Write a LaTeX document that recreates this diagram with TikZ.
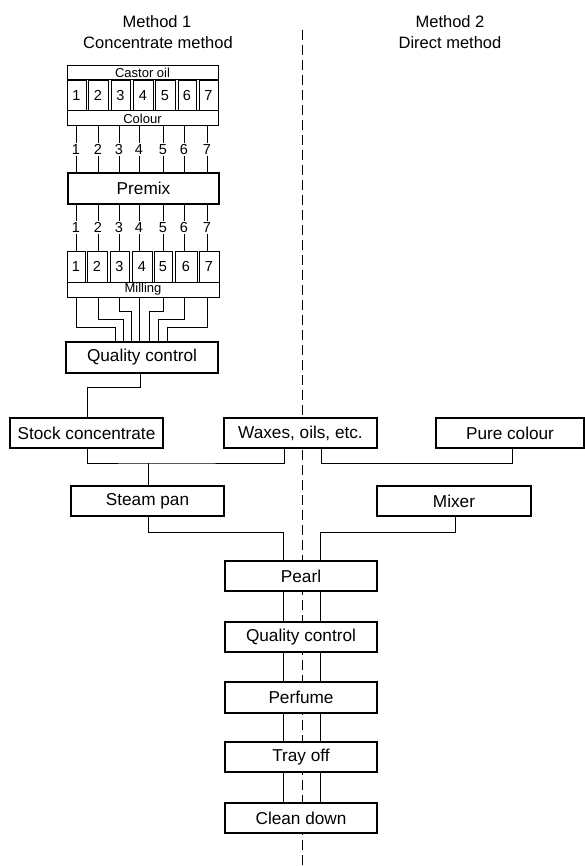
\documentclass[tikz,border=0pt]{standalone}
\usepackage{fontspec}
\setmainfont{Liberation Sans}
\begin{document}
\begin{tikzpicture}[x=1pt,y=-1pt,
  bx/.style={draw, line width=1.1pt, fill=white, inner sep=0pt, font=\fontsize{17.2}{20}\selectfont},
  sbx/.style={draw, line width=1pt, fill=white, inner sep=0pt, font=\fontsize{13}{15}\selectfont},
  cellbox/.style={draw, line width=0.9pt, fill=white, inner sep=0pt, minimum height=31pt, font=\fontsize{14.5}{16}\selectfont},
  conn/.style={line width=0.8pt},
  lbl/.style={fill=white, inner sep=1.5pt, font=\fontsize{14.5}{16}\selectfont},
  ttl/.style={font=\fontsize{16.5}{20}\selectfont},
  divider/.style={line width=0.8pt, dash pattern=on 10pt off 5pt}]
\useasboundingbox (0,0) rectangle (585,866);

% divider
\coordinate (dtop) at (302,30);
\coordinate (dbot) at (302,866);
\draw[divider] (dtop) -- (dbot);

% titles
\node[ttl] (m1a) at (157,22) {Method 1};
\node[ttl] (m1b) at (158,43) {Concentrate method};
\node[ttl] (m2a) at (450,22) {Method 2};
\node[ttl] (m2b) at (450,43) {Direct method};

% top block
\foreach \i/\c/\w in {1/76.5/19, 2/98/20, 3/120.5/19, 4/143/20, 5/165/20, 6/187/18, 7/208.5/19}
  \node[cellbox, minimum width=\w pt] (c\i) at (\c,95.5) {\i};
\node[sbx, minimum width=151pt, minimum height=14pt] (castor) at (142.5,73) {Castor oil};
\node[sbx, minimum width=151pt, minimum height=15pt] (colour) at (142.5,118.5) {Colour};

\node[bx, minimum width=151pt, minimum height=31pt] (premix) at (143.5,188.5) {Premix};

\foreach \i/\c/\w in {1/76/18, 2/97/20, 3/119.5/19, 4/142/20, 5/163/18, 6/186/22, 7/209/20}
  \node[cellbox, minimum width=\w pt] (mc\i) at (\c,266.5) {\i};
\node[sbx, minimum width=152pt, minimum height=15pt] (milling) at (143,289.5) {Milling};

\node[bx, minimum width=152pt, minimum height=31pt] (qca) at (142,357.5) {Quality control};

% column coordinates
\foreach \i/\x in {1/76, 2/98, 3/119, 4/139, 5/163, 6/184, 7/207}
  \coordinate (x\i) at (\x,0);
\foreach \i/\x in {1/115, 2/123, 3/131, 4/139, 5/149, 6/158, 7/167}
  \coordinate (e\i) at (\x,0);

\foreach \i in {1,...,7}{
  \draw[conn] (colour.south -| x\i) -- node[lbl]{\i} (premix.north -| x\i);
  \draw[conn] (premix.south -| x\i) -- node[lbl]{\i} (mc\i.north -| x\i);
}
\foreach \i/\d in {1/30, 2/22, 3/14, 5/14, 6/22, 7/30}
  \draw[conn] (milling.south -| x\i) -- ++(0,\d) -| (qca.north -| e\i);
\draw[conn] (milling.south -| x4) -- (qca.north -| e4);

% lower boxes
\node[bx, minimum width=153pt, minimum height=30pt] (stock) at (86.5,433) {Stock concentrate};
\node[bx, minimum width=153pt, minimum height=30pt] (waxes) at (300.5,433) {Waxes, oils, etc.};
\node[bx, minimum width=148pt, minimum height=30pt] (pure) at (510,433) {Pure colour};
\node[bx, minimum width=153pt, minimum height=30pt] (steam) at (147.5,501) {Steam pan};
\node[bx, minimum width=154pt, minimum height=30pt] (mixer) at (454,501) {Mixer};
\node[bx, minimum width=152pt, minimum height=30pt] (pearl) at (301,576) {Pearl};
\node[bx, minimum width=152pt, minimum height=30pt] (qcb) at (301,637) {Quality control};
\node[bx, minimum width=152pt, minimum height=31pt] (perfume) at (301,697.5) {Perfume};
\node[bx, minimum width=152pt, minimum height=30pt] (tray) at (301,757) {Tray off};
\node[bx, minimum width=152pt, minimum height=30pt] (clean) at (301,818) {Clean down};

\coordinate (qx) at (140,0);
\coordinate (sx) at (87,0);
\coordinate (wl) at (284,0);
\coordinate (wr) at (321,0);
\coordinate (px) at (512,0);
\coordinate (spx) at (148,0);
\coordinate (mxx) at (455,0);
\coordinate (vl) at (283,0);
\coordinate (vr) at (320,0);
\coordinate (jl) at (148,463);
\coordinate (jm) at (148,532);

\draw[conn] (qca.south -| qx) -- ++(0,14) -| (stock.north -| sx);
\draw[conn] (stock.south -| sx) |- (jl) -| (waxes.south -| wl);
\draw[conn] (steam.north -| spx) -- (jl);
\draw[conn] (waxes.south -| wr) -- ++(0,15) -| (pure.south -| px);
\draw[conn] (steam.south -| spx) -- (jm) -| (pearl.north -| vl);
\draw[conn] (mixer.south -| mxx) -- ++(0,16) -| (pearl.north -| vr);
\foreach \a/\b in {pearl/qcb, qcb/perfume, perfume/tray, tray/clean}{
  \draw[conn] (\a.south -| vl) -- (\b.north -| vl);
  \draw[conn] (\a.south -| vr) -- (\b.north -| vr);
}
\end{tikzpicture}
\end{document}
